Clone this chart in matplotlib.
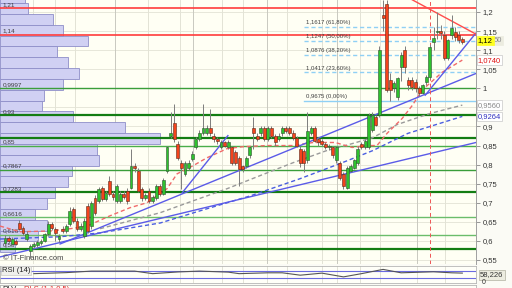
import numpy as np
import matplotlib
matplotlib.use('Agg')
import matplotlib.pyplot as plt
from matplotlib.transforms import blended_transform_factory

plt.rcParams['font.family'] = ['Liberation Sans', 'DejaVu Sans']

# bougies (lecture approximative du graphique)
opens = [0.595, 0.608, 0.592, 0.600, 0.647, 0.634, 0.605, 0.574, 0.587, 0.590,
         0.595, 0.600, 0.618, 0.645, 0.632, 0.605, 0.632, 0.625, 0.645, 0.684,
         0.653, 0.632, 0.613, 0.692, 0.639, 0.713, 0.705, 0.739, 0.711, 0.758,
         0.724, 0.705, 0.705, 0.724, 0.732, 0.739, 0.797, 0.784, 0.737, 0.713,
         0.732, 0.705, 0.713, 0.745, 0.724, 0.784, 0.876, 0.908, 0.855, 0.805,
         0.776, 0.792, 0.816, 0.845, 0.868, 0.884, 0.884, 0.897, 0.876, 0.868,
         0.845, 0.858, 0.845, 0.845, 0.832, 0.818, 0.797, 0.797, 0.824, 0.897,
         0.876, 0.882, 0.895, 0.868, 0.895, 0.876, 0.868, 0.882, 0.895, 0.895,
         0.884, 0.870, 0.842, 0.837, 0.811, 0.884, 0.895, 0.868, 0.863, 0.855,
         0.845, 0.845, 0.811, 0.805, 0.776, 0.739, 0.784, 0.792, 0.805, 0.855,
         0.845, 0.845, 0.890, 0.925, 0.929, 1.192, 1.221, 1.021, 1.000, 0.976,
         1.055, 1.100, 1.021, 1.021, 1.016, 1.000, 0.989, 1.016, 1.029, 1.121,
         1.147, 1.150, 1.139, 1.079, 1.139, 1.147, 1.139, 1.129]
closes = [0.608, 0.600, 0.605, 0.592, 0.632, 0.621, 0.618, 0.587, 0.592, 0.598,
          0.600, 0.618, 0.645, 0.634, 0.621, 0.612, 0.625, 0.640, 0.679, 0.653,
          0.632, 0.640, 0.653, 0.626, 0.700, 0.674, 0.737, 0.711, 0.725, 0.724,
          0.715, 0.745, 0.724, 0.715, 0.705, 0.797, 0.790, 0.732, 0.713, 0.720,
          0.705, 0.715, 0.745, 0.724, 0.760, 0.845, 0.884, 0.868, 0.818, 0.792,
          0.805, 0.805, 0.829, 0.868, 0.884, 0.897, 0.897, 0.884, 0.868, 0.863,
          0.858, 0.850, 0.858, 0.805, 0.805, 0.789, 0.789, 0.818, 0.845, 0.882,
          0.868, 0.895, 0.868, 0.895, 0.876, 0.858, 0.876, 0.895, 0.889, 0.884,
          0.870, 0.850, 0.805, 0.803, 0.889, 0.895, 0.863, 0.858, 0.855, 0.845,
          0.850, 0.824, 0.845, 0.766, 0.745, 0.792, 0.797, 0.811, 0.842, 0.845,
          0.863, 0.929, 0.929, 0.905, 1.100, 1.184, 0.995, 0.995, 1.013, 1.026,
          1.087, 1.055, 1.008, 1.003, 1.000, 0.989, 1.008, 1.029, 1.108, 1.132,
          1.150, 1.145, 1.079, 1.126, 1.158, 1.134, 1.126, 1.121]
highs = [0.615, 0.612, 0.610, 0.605, 0.655, 0.640, 0.625, 0.592, 0.598, 0.603,
         0.605, 0.622, 0.652, 0.650, 0.636, 0.618, 0.638, 0.645, 0.690, 0.690,
         0.660, 0.648, 0.660, 0.700, 0.705, 0.720, 0.742, 0.745, 0.732, 0.770,
         0.730, 0.750, 0.730, 0.730, 0.738, 0.842, 0.805, 0.790, 0.742, 0.726,
         0.738, 0.720, 0.750, 0.750, 0.765, 0.850, 0.937, 0.958, 0.862, 0.812,
         0.810, 0.812, 0.835, 0.872, 0.890, 0.960, 0.905, 0.947, 0.882, 0.872,
         0.865, 0.862, 0.864, 0.850, 0.838, 0.822, 0.800, 0.822, 0.850, 0.924,
         0.882, 0.900, 0.900, 0.900, 0.900, 0.880, 0.882, 0.900, 0.900, 0.900,
         0.890, 0.875, 0.848, 0.842, 0.937, 0.900, 0.900, 0.872, 0.868, 0.860,
         0.855, 0.850, 0.850, 0.810, 0.780, 0.797, 0.802, 0.815, 0.848, 0.860,
         0.868, 0.935, 0.937, 0.930, 1.110, 1.231, 1.231, 1.040, 1.020, 1.030,
         1.095, 1.110, 1.030, 1.030, 1.025, 1.005, 1.012, 1.035, 1.115, 1.160,
         1.200, 1.165, 1.150, 1.130, 1.192, 1.160, 1.150, 1.135]
lows = [0.585, 0.595, 0.588, 0.588, 0.628, 0.615, 0.600, 0.555, 0.582, 0.585,
        0.590, 0.596, 0.614, 0.628, 0.600, 0.598, 0.620, 0.620, 0.640, 0.648,
        0.626, 0.625, 0.608, 0.620, 0.632, 0.668, 0.700, 0.705, 0.705, 0.718,
        0.708, 0.700, 0.700, 0.710, 0.698, 0.735, 0.780, 0.728, 0.705, 0.708,
        0.700, 0.700, 0.708, 0.718, 0.720, 0.778, 0.870, 0.860, 0.812, 0.735,
        0.770, 0.785, 0.810, 0.840, 0.862, 0.878, 0.878, 0.875, 0.860, 0.855,
        0.840, 0.845, 0.840, 0.800, 0.798, 0.745, 0.780, 0.792, 0.818, 0.842,
        0.862, 0.876, 0.862, 0.862, 0.870, 0.850, 0.862, 0.876, 0.882, 0.878,
        0.865, 0.845, 0.795, 0.780, 0.805, 0.878, 0.858, 0.850, 0.848, 0.840,
        0.838, 0.818, 0.805, 0.760, 0.737, 0.735, 0.780, 0.788, 0.800, 0.840,
        0.840, 0.840, 0.885, 0.900, 0.925, 1.150, 0.990, 0.968, 0.990, 0.970,
        1.020, 1.040, 0.995, 0.995, 0.990, 0.980, 0.985, 1.010, 1.025, 1.100,
        1.130, 1.130, 1.075, 1.075, 1.130, 1.125, 1.118, 1.115]

# moyennes mobiles (points relevés : indice de bougie, prix)
ma_red_idx = [-1.4, 4.2, 12.5, 18.1, 22.8, 29.2, 34.7, 39.4, 45, 47.8, 52.2, 56.1, 61.7, 66.1,
              72.8, 80, 85.6, 91.7, 96.4, 100.8, 103.3, 106.1, 110.3, 113.1, 115.8, 121.4, 127]
ma_red = [0.639, 0.624, 0.626, 0.632, 0.639, 0.666, 0.687, 0.700, 0.737, 0.776, 0.797, 0.818, 0.842,
          0.847, 0.850, 0.850, 0.858, 0.858, 0.845, 0.850, 0.850, 0.882, 0.921, 0.955, 0.995, 1.042, 1.074]
ma_gray_idx = [26.4, 43.1, 52.2, 61.7, 70.8, 80, 89.4, 96.4, 102.2, 108.9, 118, 127]
ma_gray = [0.632, 0.674, 0.705, 0.737, 0.771, 0.805, 0.837, 0.855, 0.871, 0.905, 0.934, 0.956]
ma_blue_idx = [-1.4, 15.3, 26.4, 43.1, 54.2, 68.1, 81.9, 93.1, 102.2, 111.9, 127]
ma_blue = [0.605, 0.611, 0.621, 0.647, 0.679, 0.718, 0.763, 0.803, 0.837, 0.882, 0.9264]

# droites tracées
trend_blue = [((-1.4, 0.558), (130.8, 0.858)),
              ((15.3, 0.592), (130.8, 1.039)),
              ((116.7, 0.982), (130.8, 1.145)),
              ((49.2, 0.726), (61.9, 0.876))]
trend_red = [((113.1, 1.232), (130.8, 1.142))]

# supports / résistances
levels = [1.21, 1.14, 0.9997, 0.93, 0.871, 0.85, 0.7867, 0.7283, 0.6616, 0.616, 0.58]
level_labels = ['1,21', '1,14', '0,9997', '0,93', '', '0,85', '0,7867', '0,7283', '0,6616', '0,616', '0,58']
level_colors = ['#ff3c3c', '#ff3c3c', '#3a9e3a', '#137d13', '#137d13', '#4aae4a',
                '#3a9e3a', '#137d13', '#6bbd6b', '#6bbd6b', '#137d13']
level_lw = [1.2, 1.2, 1.0, 1.6, 1.6, 1.0, 1.0, 1.6, 1.0, 1.0, 1.6]

# Fibonacci
fib_levels = [1.1617, 1.1247, 1.0876, 1.0417, 0.9675]
fib_pct = [61.8, 50.0, 38.2, 23.6, 0.0]
fib_start = 83

# profil des volumes (du haut vers le bas)
profile_top = 1.252
profile_step = 0.0284
profile_vol = [25, 28, 53, 63, 88, 57, 68, 79, 63, 44, 42, 73, 125, 160, 97, 99, 72, 68, 55, 47, 35, 47, 38, 15]

# RSI 14
rsi_idx = [8, 17, 24, 36, 41, 48, 54, 62, 65, 73, 77, 82, 88, 94, 99, 105, 110, 119, 124, 127]
rsi_val = [55, 61, 70, 70, 55, 65, 70, 64, 55, 60, 60, 46, 58, 36, 55, 80, 60, 66, 60, 58.226]

last_price = 1.125
vgrid = [33, 55, 75, 115, 148, 180, 193, 222, 243, 267, 287, 322, 337, 360, 380, 417, 445]
vgrid_dark = [115, 193, 267, 337, 417]

W, H = 512, 288
fig = plt.figure(figsize=(5.12, 2.88), dpi=100, facecolor='#fbfbf5')
ax = fig.add_axes([0, 1 - 264 / H, 476 / W, 264 / H])
ax.set_facecolor('#fffff4')
xmin, xmax = -1.39, 130.8
ax.set_xlim(xmin, xmax)
ax.set_ylim(0.5395, 1.2315)

# grille
ticks = np.round(np.arange(0.55, 1.201, 0.05), 2)
for t in ticks:
    ax.axhline(t, color='#e3e3d6', lw=0.6, zorder=0)
for px in vgrid:
    ax.axvline((px - 5) / 3.6, color='#c9c9c0' if px in vgrid_dark else '#e3e3d6', lw=0.7, zorder=0)

# profil des volumes
trans = blended_transform_factory(ax.transAxes, ax.transData)
centers = [profile_top - profile_step * (k + 0.5) for k in range(len(profile_vol))]
ax.barh(centers, [v / 476 for v in profile_vol], height=profile_step, left=0,
        transform=trans, color='#d0d0f3', edgecolor='#8e8ec8', lw=0.6, zorder=1)

# niveaux
for lv, lb, col, lw in zip(levels, level_labels, level_colors, level_lw):
    ax.axhline(lv, color=col, lw=lw, zorder=2)
    if lb:
        ax.text(0.006, lv + 0.003, lb, transform=trans, fontsize=4.6, color='#404040',
                va='bottom', ha='left', zorder=3)

# Fibonacci
for lv, pc in zip(fib_levels, fib_pct):
    ls = '-' if pc == 0 else (0, (3, 2))
    ax.plot([fib_start, xmax], [lv, lv], color='#8fd0f5', lw=1.0, ls=ls, zorder=2)
    txt = ('%.4f (%.2f%%)' % (lv, pc)).replace('.', ',')
    ax.text(fib_start + 0.5, lv + 0.004, txt, fontsize=4.3, color='#404040', va='bottom', zorder=3)

# moyennes mobiles
ax.plot(ma_blue_idx, ma_blue, color='#4a5ee0', lw=1.0, ls=(0, (3, 2)), zorder=3)
ax.plot(ma_gray_idx, ma_gray, color='#9a9a9a', lw=1.0, ls=(0, (3, 2)), zorder=3)
ax.plot(ma_red_idx, ma_red, color='#f06a6a', lw=1.0, ls=(0, (3, 2)), zorder=3)

# droites
for (x0, y0), (x1, y1) in trend_blue:
    ax.plot([x0, x1], [y0, y1], color='#5b5be8', lw=1.0, zorder=3)
for (x0, y0), (x1, y1) in trend_red:
    ax.plot([x0, x1], [y0, y1], color='#ff4c4c', lw=1.0, zorder=3)

ax.axvline(118, color='#ee5555', lw=0.7, ls=(0, (4, 3)), zorder=3)

# bougies
idx = np.arange(len(closes))
o = np.array(opens)
c = np.array(closes)
up = c >= o
ax.vlines(idx, lows, highs, color='#7d7d7d', lw=0.7, zorder=4)
ax.bar(idx[up], np.maximum((c - o)[up], 0.002), bottom=o[up], width=0.8,
       color='#2ec22e', edgecolor='#2f4f2f', lw=0.4, zorder=5)
ax.bar(idx[~up], (o - c)[~up], bottom=c[~up], width=0.8,
       color='#f4431c', edgecolor='#5a2a1a', lw=0.4, zorder=5)

# axe des prix
ax.set_xticks([])
ax.yaxis.tick_right()
ax.set_yticks(ticks)
# l'étiquette 0,95 est masquée par la boîte de la moyenne grise
ax.set_yticklabels(['' if abs(t - 0.95) < 1e-6 else ('%g' % t).replace('.', ',') for t in ticks])
ax.tick_params(axis='y', length=3, width=0.6, color='#888888', labelsize=5.5,
               labelcolor='#333333', pad=2)
for s in ['left', 'top', 'bottom']:
    ax.spines[s].set_visible(False)
ax.spines['right'].set_color('#a0a0a0')
ax.spines['right'].set_linewidth(0.7)

tr = blended_transform_factory(ax.transAxes, ax.transData)
box = dict(boxstyle='square,pad=0.15', lw=0.5)
t_last = ax.text(1.004, last_price, ('%.4f' % last_price).replace('.', ',')[:4], transform=tr,
                 fontsize=5.5, color='#000000', va='center',
                 bbox=dict(box, fc='#ffff20', ec='#ffff20'), zorder=7, clip_on=False)
ax.annotate(('%.4f' % last_price).replace('.', ',')[4:], xy=(1, 0.5), xycoords=t_last,
            xytext=(0.6, 0), textcoords='offset points', fontsize=5.5, color='#888888',
            va='center', ha='left', bbox=dict(box, fc='#ecece0', ec='#ecece0'), zorder=6,
            annotation_clip=False)
ax.text(1.004, ma_red[-1], ('%.4f' % ma_red[-1]).replace('.', ','), transform=tr, fontsize=5.5,
        color='#e01010', va='center', bbox=dict(box, fc='#ffffff', ec='#c8c8c8'), zorder=6, clip_on=False)
ax.text(1.004, ma_gray[-1], ('%.4f' % ma_gray[-1]).replace('.', ','), transform=tr, fontsize=5.5,
        color='#8a8a8a', va='center', bbox=dict(box, fc='#ffffff', ec='#c8c8c8'), zorder=6, clip_on=False)
ax.text(1.004, ma_blue[-1], ('%.4f' % ma_blue[-1]).replace('.', ','), transform=tr, fontsize=5.5,
        color='#3030c0', va='center', bbox=dict(box, fc='#ffffff', ec='#c8c8c8'), zorder=6, clip_on=False)

fig.text(3 / W, 1 - 258 / H, '\u00a9 IT-Finance.com', fontsize=5.5, color='#444444', va='center')

# RSI
ax_rsi = fig.add_axes([0, 1 - 283 / H, 476 / W, 17 / H])
ax_rsi.set_facecolor('#fffff8')
ax_rsi.set_xlim(xmin, xmax)
ax_rsi.set_ylim(0, 100)
ax_rsi.axhline(70, color='#6a6ae0', lw=0.8)
ax_rsi.axhline(30, color='#6a6ae0', lw=0.8)
for px in vgrid:
    ax_rsi.axvline((px - 5) / 3.6, color='#e3e3d6', lw=0.7, zorder=0)
ax_rsi.plot(rsi_idx, rsi_val, color='#555555', lw=0.8)
ax_rsi.set_xticks([])
ax_rsi.set_yticks([])
for s in ax_rsi.spines.values():
    s.set_color('#b5b5b5')
    s.set_linewidth(0.6)
ax_rsi.text(0.004, 0.93, 'RSI (14)', transform=ax_rsi.transAxes, fontsize=5.5, color='#222222',
            va='top', bbox=dict(boxstyle='square,pad=0.1', fc='#f0f0ec', ec='#c0c0c0', lw=0.4))
fig.text(480 / W, 1 - 275 / H, ('%.3f' % rsi_val[-1]).replace('.', ','), fontsize=5.5, color='#333333',
         va='center', bbox=dict(boxstyle='square,pad=0.15', fc='#ecece0', ec='#b0b0a0', lw=0.5))
fig.text(482 / W, 1 - 283 / H, '0', fontsize=5, color='#333333', va='center')

# panneau suivant (coupé en bas de l'image)
ax_b = fig.add_axes([0, 1 - 300 / H, 476 / W, 15 / H])
ax_b.set_facecolor('#fffff8')
ax_b.set_xticks([])
ax_b.set_yticks([])
for s in ax_b.spines.values():
    s.set_color('#b5b5b5')
    s.set_linewidth(0.6)
ax_b.text(0.004, 0.93, 'RLV', transform=ax_b.transAxes, fontsize=5.5, color='#222222', va='top')
ax_b.text(0.05, 0.93, 'RLS (1,1,0,5)', transform=ax_b.transAxes, fontsize=5.5, color='#e03030', va='top')

fig.savefig('out.png', dpi=100, facecolor=fig.get_facecolor())
